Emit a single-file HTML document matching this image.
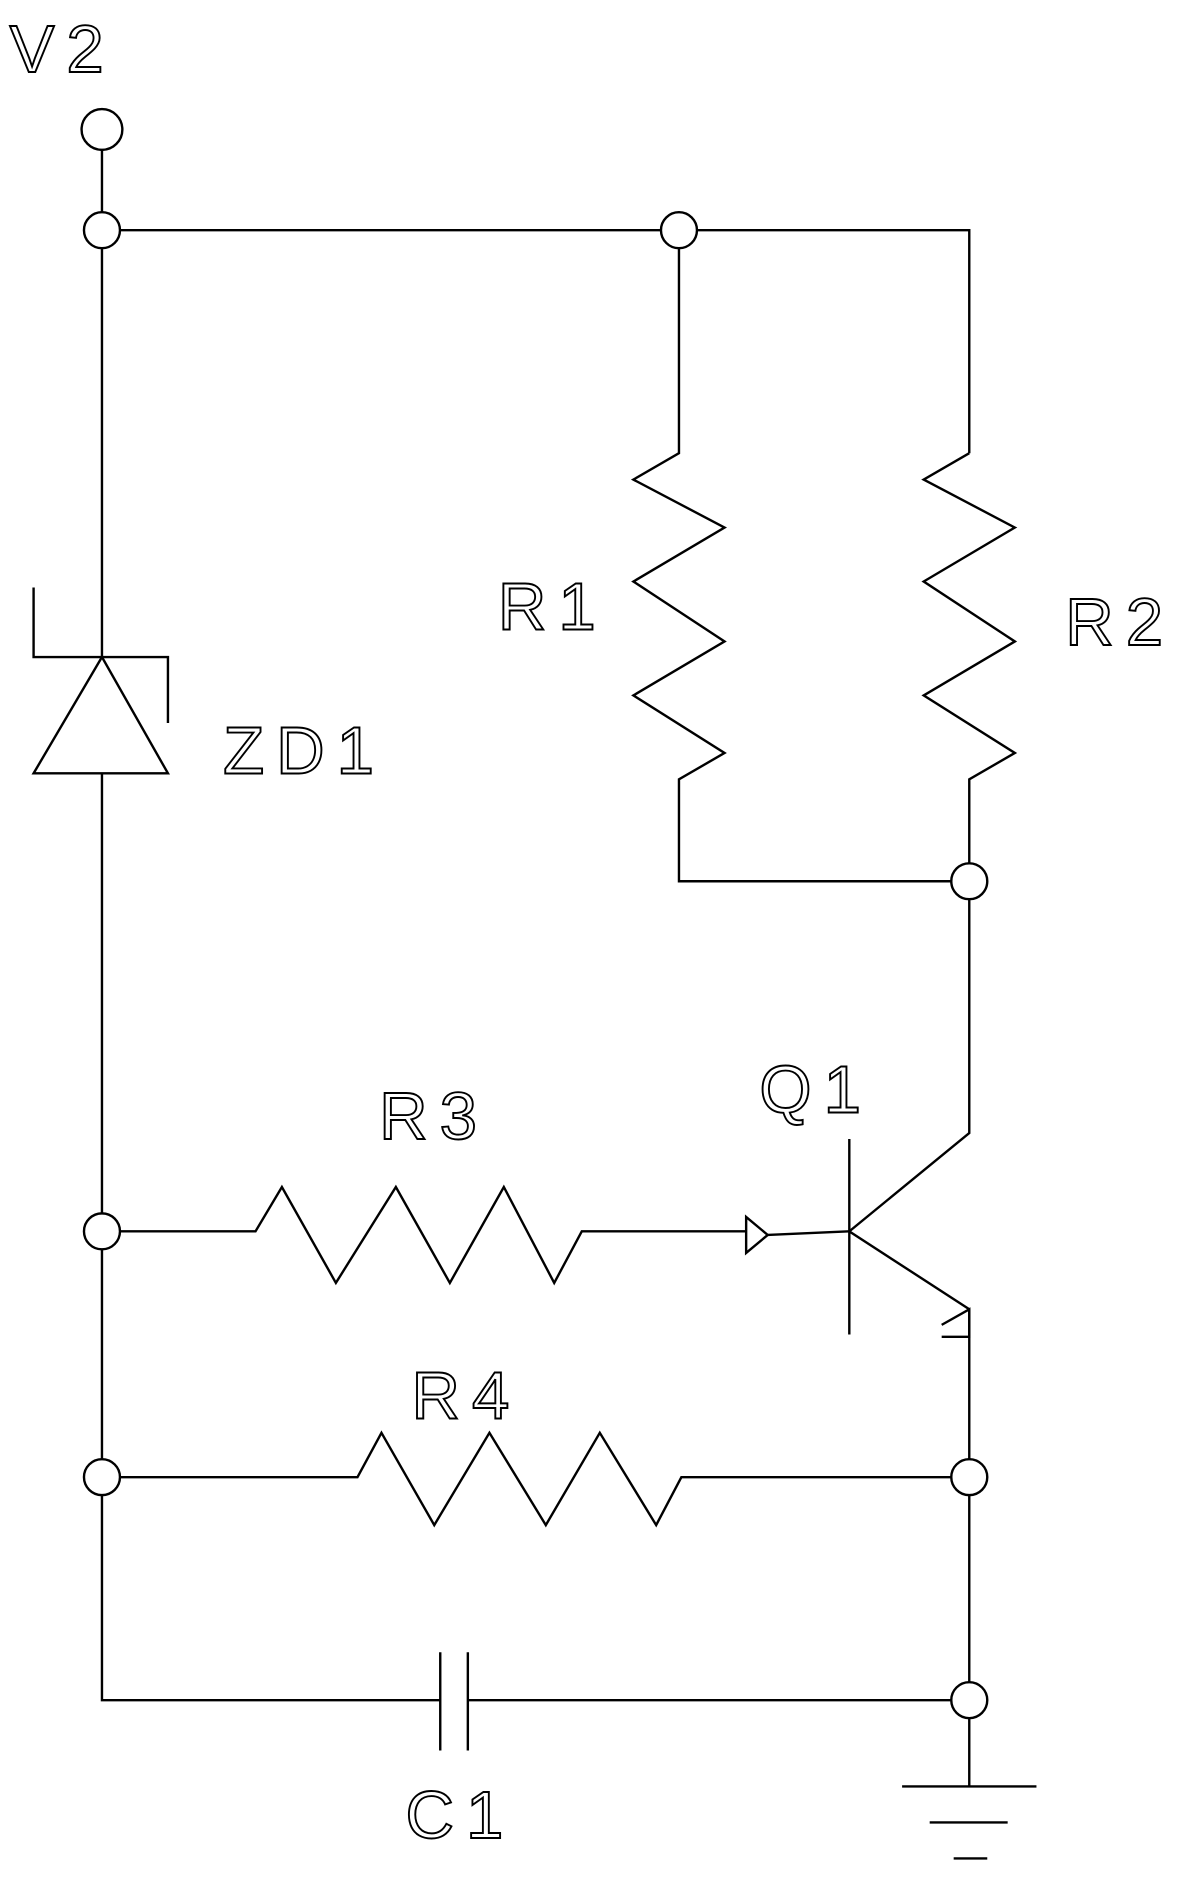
<!DOCTYPE html>
<html><head><meta charset="utf-8"><style>
html,body{margin:0;padding:0;background:#fff;}
svg{display:block;}
text{font-family:"Liberation Sans",sans-serif;font-size:56px;fill:#fff;stroke:#000;stroke-width:1.6;letter-spacing:10px;}
</style></head><body>
<svg width="1178" height="1880" viewBox="0 0 982 1568" preserveAspectRatio="none" xmlns="http://www.w3.org/2000/svg">
<g fill="none" stroke="#000" stroke-width="2">
<circle cx="85" cy="108" r="17"/>
<line x1="85" y1="125" x2="85" y2="177"/>
<circle cx="85" cy="192" r="15"/>
<line x1="100" y1="192" x2="551" y2="192"/>
<circle cx="566" cy="192" r="15"/>
<polyline points="581,192 808,192 808,378"/>
<line x1="85" y1="207" x2="85" y2="548"/>
<polygon points="85,548 28,645 140,645"/>
<polyline points="28,490 28,548 140,548 140,603"/>
<line x1="85" y1="645" x2="85" y2="1012"/>
<circle cx="85" cy="1027" r="15"/>
<line x1="85" y1="1042" x2="85" y2="1217"/>
<circle cx="85" cy="1232" r="15"/>
<polyline points="85,1247 85,1418 367,1418"/>
<line x1="367" y1="1378" x2="367" y2="1460"/>
<line x1="390" y1="1378" x2="390" y2="1460"/>
<line x1="390" y1="1418" x2="793" y2="1418"/>
<circle cx="808" cy="1418" r="15"/>
<polyline points="566,207 566,378 528,400 604,440 528,485 604,535 528,580 604,628 566,650 566,735 793,735"/>
<polyline points="808,378 770,400 846,440 770,485 846,535 770,580 846,628 808,650 808,720"/>
<circle cx="808" cy="735" r="15"/>
<polyline points="808,750 808,945 708,1027 808,1092"/>
<line x1="708" y1="950" x2="708" y2="1113"/>
<polyline points="785,1105 808,1092 808,1115 785,1115"/>
<line x1="808" y1="1092" x2="808" y2="1217"/>
<circle cx="808" cy="1232" r="15"/>
<line x1="808" y1="1247" x2="808" y2="1403"/>
<line x1="808" y1="1433" x2="808" y2="1490"/>
<line x1="752" y1="1490" x2="864" y2="1490"/>
<line x1="775" y1="1520" x2="840" y2="1520"/>
<line x1="795" y1="1550" x2="823" y2="1550"/>
<polyline points="100,1027 213,1027 235,990 280,1070 330,990 375,1070 420,990 462,1070 485,1027 622,1027"/>
<polygon points="622,1015 622,1045 640,1030"/>
<line x1="640" y1="1030" x2="708" y2="1027"/>
<polyline points="100,1232 298,1232 318,1195 362,1272 408,1195 455,1272 500,1195 547,1272 568,1232 793,1232"/>
</g>
<text x="8" y="60">V2</text>
<text x="415" y="525">R1</text>
<text x="888" y="538">R2</text>
<text x="186" y="645">ZD1</text>
<text x="316" y="950">R3</text>
<text x="633" y="928">Q1</text>
<text x="343" y="1183">R4</text>
<text x="338" y="1533">C1</text>
</svg>
</body></html>
